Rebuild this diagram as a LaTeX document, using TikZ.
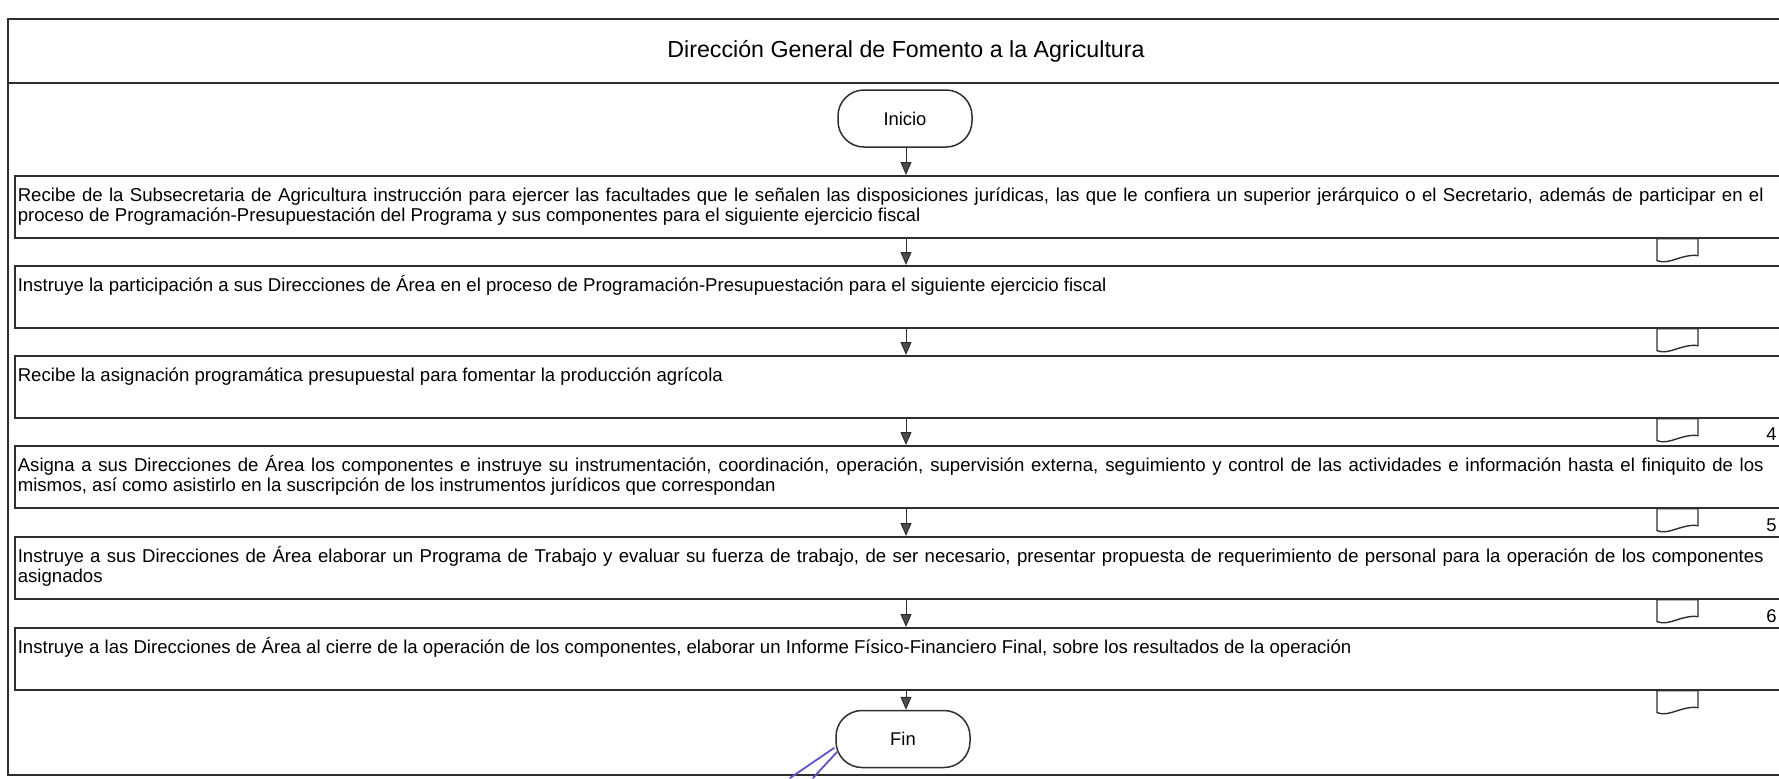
\documentclass[tikz,border=0pt]{standalone}
\usepackage{fontspec}
\setmainfont{Liberation Sans}
\usetikzlibrary{arrows.meta,calc,positioning}

\definecolor{linea}{HTML}{2E2E2E}
\definecolor{azultinta}{HTML}{5A55C8}

% texto de cada paso, alineado arriba y justificado
\newcommand{\textopaso}[1]{\parbox[c][31pt][t]{873pt}{\hyphenpenalty=10000\rule{0pt}{13pt}#1}\hspace*{90pt}}

\tikzset{
  marco/.style={draw=linea, line width=1.1pt},
  caja/.style={draw=linea, line width=0.8pt, anchor=north west, inner xsep=1.5pt, inner ysep=0pt,
               font=\fontsize{9.3}{10}\selectfont, text=black},
  terminal/.style={draw=linea, line width=0.75pt, rounded corners=13pt, minimum width=67pt,
                   minimum height=28.5pt, inner sep=0pt, font=\fontsize{9.2}{10}\selectfont},
  titulo/.style={font=\fontsize{11.6}{14}\selectfont, inner sep=0pt},
  flecha/.style={draw=linea, line width=0.5pt, -{Triangle[width=5.5pt,length=6.5pt,fill=black!70]}},
  numero/.style={font=\fontsize{9.2}{10}\selectfont, anchor=south east, inner sep=0pt},
  firma/.style={draw=azultinta, line width=0.9pt, line cap=round},
  docu/.pic={\draw[draw=linea, line width=0.7pt] (0,0) -- (0,22) .. controls (12,27) and (24,15) .. (41,17) -- (41,0) -- cycle;}
}

\begin{document}
\begin{tikzpicture}[x=0.5pt, y=-0.5pt]
\useasboundingbox (0,0) rectangle (1779,778);
\clip (0,0) rectangle (1779,778);

% marco general y encabezado
\draw[marco] (8,19) rectangle (1810,775);
\draw[marco] (8,83) -- (1810,83);
\node[titulo] (titulo) at (906,51) {Dirección General de Fomento a la Agricultura};

\coordinate (eje) at (906,0);
\coordinate (docx) at (1657,0);
\coordinate (numx) at (1777,0);

\node[terminal] (inicio) at (905,118.5) {Inicio};

\node[caja] (p1) at (14,175) {\textopaso{Recibe de la Subsecretaria de Agricultura instrucción para ejercer las facultades que le señalen las disposiciones jurídicas, las que le confiera un superior jerárquico o el Secretario, además de participar en el\linebreak proceso de Programación-Presupuestación del Programa y sus componentes para el siguiente ejercicio fiscal}};
\node[caja] (p2) at (14,265) {\textopaso{Instruye la participación a sus Direcciones de Área en el proceso de Programación-Presupuestación para el siguiente ejercicio fiscal}};
\node[caja] (p3) at (14,355) {\textopaso{Recibe la asignación programática presupuestal para fomentar la producción agrícola}};
\node[caja] (p4) at (14,445) {\textopaso{Asigna a sus Direcciones de Área los componentes e instruye su instrumentación, coordinación, operación, supervisión externa, seguimiento y control de las actividades e información hasta el finiquito de los\linebreak mismos, así como asistirlo en la suscripción de los instrumentos jurídicos que correspondan}};
\node[caja] (p5) at (14,536) {\textopaso{Instruye a sus Direcciones de Área elaborar un Programa de Trabajo y evaluar su fuerza de trabajo, de ser necesario, presentar propuesta de requerimiento de personal para la operación de los componentes\linebreak asignados}};
\node[caja] (p6) at (14,627) {\textopaso{Instruye a las Direcciones de Área al cierre de la operación de los componentes, elaborar un Informe Físico-Financiero Final, sobre los resultados de la operación}};

\node[terminal] (fin) at (903,739) {Fin};

% flechas entre pasos
\foreach \a/\b in {inicio/p1,p1/p2,p2/p3,p3/p4,p4/p5,p5/p6,p6/fin}{
  \draw[flecha] (\a.south -| eje) -- (\b.north -| eje);
}

% documentos al pie de cada paso
\foreach \p in {p1,p2,p3,p4,p5,p6}{
  \pic at (\p.south -| docx) {docu};
}

% numeros de pagina
\foreach \p/\n in {p4/4,p5/5,p6/6}{
  \node[numero] (n\n) at ($(\p.north -| numx)+(0,-4)$) {\n};
}

% trazo de tinta
\draw[firma] (834,748) -- (790,778);
\draw[firma] (837,752) -- (813,778);
\end{tikzpicture}
\end{document}
